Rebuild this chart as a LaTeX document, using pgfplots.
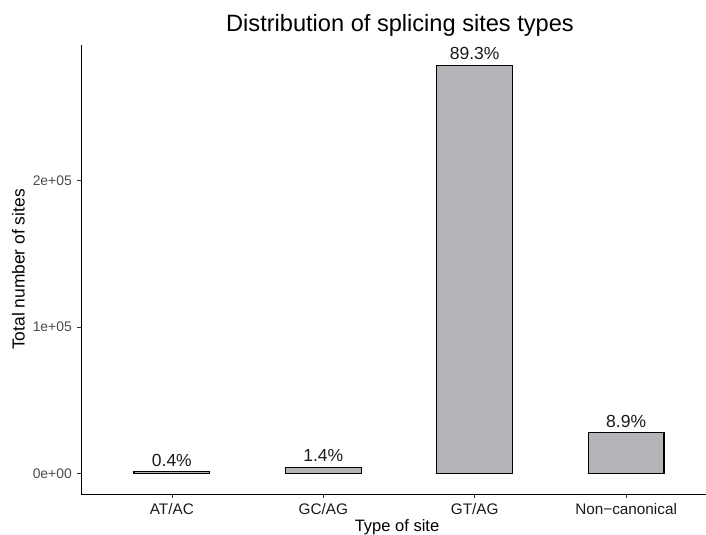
\documentclass[border=0pt]{standalone}
\usepackage{pgfplots}
\pgfplotsset{compat=1.18}
\usepackage{fontspec}
\setmainfont{Liberation Sans}
\definecolor{barfill}{RGB}{180,181,185}
\definecolor{ticklab}{RGB}{77,77,77}
\definecolor{txt}{RGB}{26,26,26}
\begin{document}
\begin{tikzpicture}
\begin{axis}[
  at={(81bp,41bp)}, anchor=south west,
  scale only axis, width=636bp, height=449bp,
  xmin=-0.6, xmax=3.6,
  ymin=-13930, ymax=292530,
  axis lines=left,
  axis line style={-, line width=0.8bp, color=black},
  tick align=outside,
  major tick length=4bp,
  every tick/.style={color=black!80, line width=0.6bp},
  xtick={0,1,2,3},
  xticklabels={AT/AC,GC/AG,GT/AG,Non{\char"2212}canonical},
  ytick={0,100000,200000},
  yticklabels={0e+00,1e+05,2e+05},
  scaled y ticks=false,
  xticklabel style={font=\fontsize{15.3bp}{18bp}\selectfont, color=txt, inner sep=0pt, anchor=north},
  yticklabel style={font=\fontsize{13.9bp}{16bp}\selectfont, color=ticklab, inner sep=0pt, anchor=east},
  xticklabel shift=5bp,
  yticklabel shift=5bp,
  clip=false,
  point meta=explicit symbolic,
  nodes near coords,
  every node near coord/.append style={font=\fontsize{17.5bp}{20bp}\selectfont, color=txt, inner sep=0pt, anchor=south, yshift=5bp},
]
\addplot[ybar, bar width=0.5, fill=barfill, draw=black, line width=1.1bp]
  coordinates {(0,1250) [0.4\%] (1,4370) [1.4\%] (2,278600) [89.3\%] (3,27770) [8.9\%]};
\end{axis}
\node[anchor=base, inner sep=0pt, font=\fontsize{23.6bp}{28bp}\selectfont, color=black] at (400bp,503.3bp) {Distribution of splicing sites types};
\node[anchor=base, inner sep=0pt, rotate=90, font=\fontsize{17.4bp}{20bp}\selectfont, color=black] at (24.5bp,265.5bp) {Total number of sites};
\node[anchor=base, inner sep=0pt, font=\fontsize{16.5bp}{20bp}\selectfont, color=black] at (397bp,4bp) {Type of site};
\pgfresetboundingbox
\path[use as bounding box] (0,0) rectangle (706bp,535bp);
\end{tikzpicture}
\end{document}
